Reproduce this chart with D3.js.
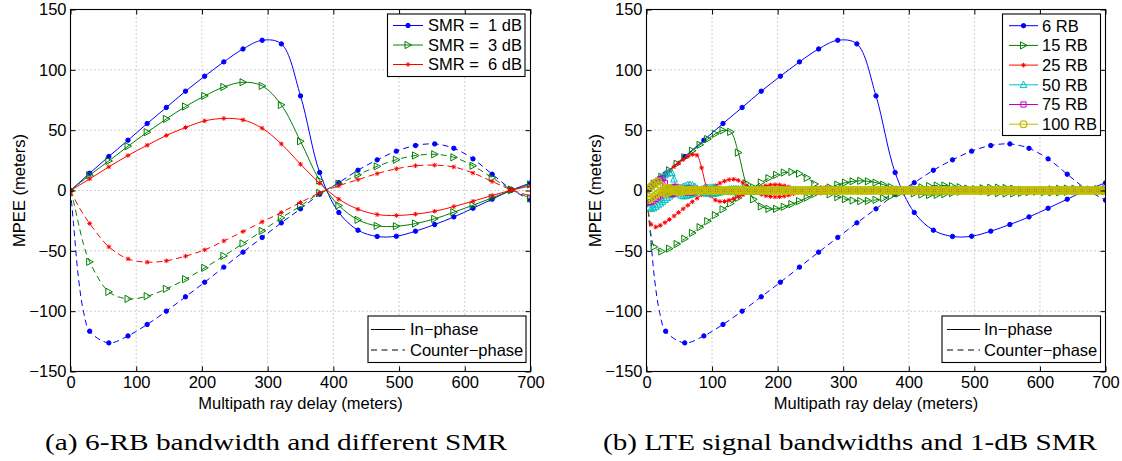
<!DOCTYPE html>
<html>
<head>
<meta charset="utf-8">
<script src="https://cdn.jsdelivr.net/npm/d3@7"></script>
<style>
  body { margin: 0; background: #fff; }
</style>
</head>
<body>
<svg id="fig" width="1122" height="461"></svg>
<script>
// ---- data ----
const delayTicks = [0, 100, 200, 300, 400, 500, 600, 700];
const mpeeTicks = [-150, -100, -50, 0, 50, 100, 150];

// (a) 6 RB, markers every 700/24 m
const smr1In = [0,14.3,28.2,41.7,55.5,68.8,82.3,94.7,106.6,117.3,124.5,121.5,78.4,14.9,-18.2,-32.9,-38.1,-37.9,-33.7,-28.2,-21.9,-14.7,-7.2,0.2,6.3];
const smr3In = [0,12.7,24.5,36.7,48.3,59.3,69.6,78.4,85.8,89.7,86.7,70.9,40.8,8.3,-12.4,-24.3,-29.3,-29.6,-27.4,-23.5,-18.0,-12.2,-6.1,0.2,5.0];
const smr6In = [0,9.6,19.6,29.0,37.5,45.6,52.2,57.7,59.7,58.5,51.6,38.6,21.8,6.0,-7.2,-15.5,-19.9,-20.7,-19.6,-17.2,-13.3,-8.9,-4.1,0.2,3.8];
const smr1Cp = [0,-116.6,-126.3,-120.5,-111.0,-100.0,-88.1,-76.0,-63.5,-51.1,-38.9,-26.8,-15.2,-3.1,6.5,16.8,25.4,32.6,37.3,38.6,35.0,26.2,13.5,1.0,-8.0];
const smr3Cp = [0,-59.1,-84.0,-89.8,-87.6,-81.5,-73.5,-64.1,-54.2,-43.9,-33.5,-22.7,-12.8,-2.0,5.5,13.0,20.0,25.5,29.0,30.0,27.5,20.5,10.5,0.8,-6.5];
const smr6Cp = [0,-27.3,-46.7,-56.7,-59.4,-58.3,-54.4,-49.2,-41.8,-34.0,-26.0,-18.2,-9.9,-2.0,4.0,9.0,14.0,18.0,20.5,21.0,19.5,14.5,7.5,0.5,-4.5];
// steep start of the counter-phase curves (no markers there)
const headDelay = [5, 12, 20];
const smr1CpHead = [-30, -72, -101];
const smr3CpHead = [-10, -27, -45];
const smr6CpHead = [-5.5, -13, -20];

// (b) 1 dB SMR, bandwidths
const rb15In = [0,5.7,11.3,16.7,22.2,27.5,32.9,37.9,42.6,46.9,49.8,48.6,31.4,6.0,-7.3,-13.2,-15.2,-15.2,-13.5,-11.3,-8.8,-5.9,-2.9,0.1,2.5,
  4.8,6.5,7.6,8.0,7.6,6.5,4.8,2.8,0.8,-1.0,-2.4,-3.3,-3.7,-3.6,-3.0,-2.1,-1.0,0.1,1.1,1.9,
  2.3,2.4,2.1,1.5,0.7,-0.1,-0.9,-1.4,-1.6,-1.5,-1.1,-0.5,0.1,0.7,1.1,1.2];
const rb15Cp = [0,-46.6,-50.5,-48.2,-44.4,-40.0,-35.2,-30.4,-25.4,-20.4,-15.6,-10.7,-6.1,-1.2,2.6,6.7,10.2,13.0,14.9,15.4,14.0,10.5,5.4,-0.4,-3.2,
  -5.5,-7.2,-8.3,-8.8,-8.6,-7.8,-6.3,-4.5,-2.5,-0.6,1.2,2.6,3.6,4.1,4.1,3.6,2.7,1.6,0.4,-0.7,
  -1.6,-2.2,-2.5,-2.4,-2.0,-1.3,-0.5,0.3,1.0,1.4,1.6,1.5,1.1,0.6,0.0,-0.5];
const rb15HeadDelay = [2, 4.8, 8];
const rb15CpHead = [-12, -29, -40];

const rb25In = [0,3.4,6.8,10.0,13.3,16.5,19.8,22.7,25.6,28.2,29.9,29.2,18.8,3.6,-4.4,-7.9,-9.1,-9.1,-8.1,-6.8,-5.3,-3.5,-1.7,0,1.5,
  2.9,3.9,4.6,4.8,4.6,3.9,2.9,1.7,0.5,-0.6,-1.4,-2.0,-2.2,-2.2,-1.8,-1.3,-0.6,0.1,0.7,1.1,
  1.4,1.4,1.3,0.9,0.4,-0.1,-0.5,-0.8,-1.0,-0.9,-0.7,-0.3,0.1,0.4,0.7,0.7,
  0.6,0.4,0.1,-0.2,-0.4,-0.6,-0.6,-0.5,-0.3,0,0.3,0.5,0.5,0.5,0.3,0.1,-0.1,-0.3,-0.4,-0.4,
  -0.3,-0.1,0.1,0.3,0.4,0.4,0.3,0.1,-0.1,-0.2,-0.3,-0.3,-0.2,0,0.1,0.2,0.3,0.2,0.1,0];
const rb25Cp = [0,-28.0,-30.3,-28.9,-26.6,-24.0,-21.1,-18.2,-15.2,-12.3,-9.3,-6.4,-3.6,-0.7,1.6,4.0,6.1,7.8,9.0,9.3,8.4,6.3,3.2,-0.2,-1.9,
  -3.3,-4.3,-5.0,-5.3,-5.2,-4.7,-3.8,-2.7,-1.5,-0.4,0.7,1.6,2.2,2.5,2.5,2.2,1.6,1.0,0.2,-0.4,
  -1.0,-1.3,-1.5,-1.4,-1.2,-0.8,-0.3,0.2,0.6,0.8,1.0,0.9,0.7,0.4,0,-0.3,
  -0.6,-0.8,-0.9,-0.9,-0.7,-0.4,-0.1,0.2,0.5,0.6,0.6,0.5,0.3,0,-0.2,-0.4,-0.5,-0.5,-0.4,-0.2,
  0,0.2,0.3,0.4,0.4,0.3,0.1,-0.1,-0.2,-0.3,-0.3,-0.2,-0.1,0.1,0.2,0.2,0.2,0.1,0,-0.1];

// 50, 75, 100 RB on a 3.5 m grid
const rb50In = [0,1.7,3.4,5.0,6.7,8.3,9.9,11.4,12.8,14.1,14.9,14.6,9.4,1.8,-2.2,-3.9,-4.6,-4.5,-4.0,-3.4,-2.6,-1.8,-0.9,0,0.8,
  1.4,2.0,2.3,2.4,2.3,2.0,1.4,0.8,0.2,-0.3,-0.7,-1.0,-1.1,-1.1,-0.9,-0.6,-0.3,0,0.3,0.6,
  0.7,0.7,0.6,0.5,0.2,0,-0.3,-0.4,-0.5,-0.5,-0.3,-0.2,0,0.2,0.3,0.4,
  0,0,0,0,0,0,0,0,0,0, 0,0,0,0,0,0,0,0,0,0, 0,0,0,0,0,0,0,0,0,0, 0,0,0,0,0,0,0,0,0,0,
  0,0,0,0,0,0,0,0,0,0, 0,0,0,0,0,0,0,0,0,0, 0,0,0,0,0,0,0,0,0,0, 0,0,0,0,0,0,0,0,0,0,
  0,0,0,0,0,0,0,0,0,0, 0,0,0,0,0,0,0,0,0,0, 0,0,0,0,0,0,0,0,0,0, 0,0,0,0,0,0,0,0,0,0,
  0,0,0,0,0,0,0,0,0,0, 0,0,0,0,0,0,0,0,0,0];
const rb50Cp = [0,-14.0,-15.2,-14.5,-13.3,-12.0,-10.6,-9.1,-7.6,-6.1,-4.7,-3.2,-1.8,-0.4,0.8,2.0,3.0,3.9,4.5,4.6,4.2,3.1,1.6,-0.1,-1.0,
  -1.7,-2.2,-2.5,-2.6,-2.6,-2.3,-1.9,-1.4,-0.8,-0.2,0.4,0.8,1.1,1.2,1.2,1.1,0.8,0.5,0.1,-0.2,
  -0.5,-0.7,-0.8,-0.7,-0.6,-0.4,-0.2,0.1,0.3,0.4,0.5,0.5,0.3,0.2,0,-0.2,
  0,0,0,0,0,0,0,0,0,0, 0,0,0,0,0,0,0,0,0,0, 0,0,0,0,0,0,0,0,0,0, 0,0,0,0,0,0,0,0,0,0,
  0,0,0,0,0,0,0,0,0,0, 0,0,0,0,0,0,0,0,0,0, 0,0,0,0,0,0,0,0,0,0, 0,0,0,0,0,0,0,0,0,0,
  0,0,0,0,0,0,0,0,0,0, 0,0,0,0,0,0,0,0,0,0, 0,0,0,0,0,0,0,0,0,0, 0,0,0,0,0,0,0,0,0,0,
  0,0,0,0,0,0,0,0,0,0, 0,0,0,0,0,0,0,0,0,0];
const rb75In = [0,1.7,3.3,5.0,6.6,8.1,9.4,10.0,6.3,-0.2,-2.6,-3.1,-2.7,-2.0,-1.2,-0.3,0.5,1.1,1.5,1.6,
  1.3,0.8,0.2,-0.3,-0.7,-0.7,-0.6,-0.3,0,0.3,0.5,0.4,0.3,0.1,-0.1,-0.2,-0.2,-0.1,0,0,0,
  0,0,0,0,0,0,0,0,0,0, 0,0,0,0,0,0,0,0,0,0, 0,0,0,0,0,0,0,0,0,0, 0,0,0,0,0,0,0,0,0,0,
  0,0,0,0,0,0,0,0,0,0, 0,0,0,0,0,0,0,0,0,0, 0,0,0,0,0,0,0,0,0,0, 0,0,0,0,0,0,0,0,0,0,
  0,0,0,0,0,0,0,0,0,0, 0,0,0,0,0,0,0,0,0,0, 0,0,0,0,0,0,0,0,0,0, 0,0,0,0,0,0,0,0,0,0,
  0,0,0,0,0,0,0,0,0,0, 0,0,0,0,0,0,0,0,0,0, 0,0,0,0,0,0,0,0,0,0, 0,0,0,0,0,0,0,0,0,0];
const rb75Cp = [0,-9.8,-9.6,-8.4,-7.0,-5.6,-4.1,-2.6,-1.2,0.1,1.3,2.3,3.0,3.0,2.1,0.5,-0.6,-1.3,-1.7,-1.7,
  -1.6,-1.1,-0.5,0.1,0.5,0.8,0.8,0.6,0.3,0,-0.3,-0.5,-0.5,-0.3,-0.1,0.1,0.1,0,0,0,0,
  0,0,0,0,0,0,0,0,0,0, 0,0,0,0,0,0,0,0,0,0, 0,0,0,0,0,0,0,0,0,0, 0,0,0,0,0,0,0,0,0,0,
  0,0,0,0,0,0,0,0,0,0, 0,0,0,0,0,0,0,0,0,0, 0,0,0,0,0,0,0,0,0,0, 0,0,0,0,0,0,0,0,0,0,
  0,0,0,0,0,0,0,0,0,0, 0,0,0,0,0,0,0,0,0,0, 0,0,0,0,0,0,0,0,0,0, 0,0,0,0,0,0,0,0,0,0,
  0,0,0,0,0,0,0,0,0,0, 0,0,0,0,0,0,0,0,0,0, 0,0,0,0,0,0,0,0,0,0, 0,0,0,0,0,0,0,0,0,0];
const rb100In = [0,1.7,3.3,4.9,6.4,7.5,4.7,-1.1,-2.3,-2.0,-1.3,-0.4,0.4,1.0,1.2,1.0,0.4,-0.2,-0.5,-0.5,
  -0.3,0,0.3,0.4,0.2,0,0,0,0,0,0,
  0,0,0,0,0,0,0,0,0,0, 0,0,0,0,0,0,0,0,0,0, 0,0,0,0,0,0,0,0,0,0, 0,0,0,0,0,0,0,0,0,0,
  0,0,0,0,0,0,0,0,0,0, 0,0,0,0,0,0,0,0,0,0, 0,0,0,0,0,0,0,0,0,0, 0,0,0,0,0,0,0,0,0,0,
  0,0,0,0,0,0,0,0,0,0, 0,0,0,0,0,0,0,0,0,0, 0,0,0,0,0,0,0,0,0,0, 0,0,0,0,0,0,0,0,0,0,
  0,0,0,0,0,0,0,0,0,0, 0,0,0,0,0,0,0,0,0,0, 0,0,0,0,0,0,0,0,0,0, 0,0,0,0,0,0,0,0,0,0,
  0,0,0,0,0,0,0,0,0,0];
const rb100Cp = [0,-7.6,-6.7,-5.3,-3.8,-2.3,-0.9,0.4,1.5,2.2,2.1,0.8,-0.5,-1.1,-1.3,-1.2,-0.7,-0.1,0.4,0.6,
  0.5,0.2,-0.1,-0.4,-0.3,0,0,0,0,0,0,
  0,0,0,0,0,0,0,0,0,0, 0,0,0,0,0,0,0,0,0,0, 0,0,0,0,0,0,0,0,0,0, 0,0,0,0,0,0,0,0,0,0,
  0,0,0,0,0,0,0,0,0,0, 0,0,0,0,0,0,0,0,0,0, 0,0,0,0,0,0,0,0,0,0, 0,0,0,0,0,0,0,0,0,0,
  0,0,0,0,0,0,0,0,0,0, 0,0,0,0,0,0,0,0,0,0, 0,0,0,0,0,0,0,0,0,0, 0,0,0,0,0,0,0,0,0,0,
  0,0,0,0,0,0,0,0,0,0, 0,0,0,0,0,0,0,0,0,0, 0,0,0,0,0,0,0,0,0,0, 0,0,0,0,0,0,0,0,0,0,
  0,0,0,0,0,0,0,0,0,0];

const smrLabels = ["SMR =  1 dB", "SMR =  3 dB", "SMR =  6 dB"];
const rbLabels = ["6 RB", "15 RB", "25 RB", "50 RB", "75 RB", "100 RB"];
const phaseLabels = ["In\u2212phase", "Counter\u2212phase"];
const captions = ["(a) 6-RB bandwidth and different SMR", "(b) LTE signal bandwidths and 1-dB SMR"];

// delay grid: sample index * step (metres)
const grid = (values, step) => values.map((v, i) => i * step);

const BLUE = "#0000ff", GREEN = "#008000", RED = "#ff0000",
      CYAN = "#00bfbf", MAGENTA = "#bf00bf", YELLOW = "#bfbf00";
const SANS = '"Liberation Sans", Arial, Helvetica, sans-serif';
const SERIF = '"Liberation Serif", "Times New Roman", serif';
const FS = "16.5px";

const svg = d3.select("#fig");

function markerPath(type) {
  switch (type) {
    case "dot": return d3.symbol(d3.symbolCircle, 15)();
    case "triRight": return "M-3,-3.6L3.6,0L-3,3.6Z";
    case "triUp": return "M0,-3.8L3.4,2.8L-3.4,2.8Z";
    case "square": return "M-2.6,-2.6H2.6V2.6H-2.6Z";
    case "circle": return d3.symbol(d3.symbolCircle, 36)();
    case "star": return "M-2.3,0H2.3M0,-2.3V2.3M-1.7,-1.7L1.7,1.7M-1.7,1.7L1.7,-1.7";
  }
  return null;
}

function styleMarker(sel, s) {
  sel.attr("d", markerPath(s.marker))
    .attr("fill", s.marker === "dot" ? s.color : "none")
    .attr("stroke", s.color)
    .attr("stroke-width", s.marker === "circle" ? 1.3 : 1);
}

function drawPanel(p) {
  const x = d3.scaleLinear().domain([0, 700]).range([p.left, p.right]);
  const y = d3.scaleLinear().domain([-150, 150]).range([p.bottom, p.top]);
  const g = svg.append("g");

  // dotted grid
  g.append("g").selectAll("line").data(delayTicks.slice(1, -1)).join("line")
    .attr("x1", d => x(d)).attr("x2", d => x(d)).attr("y1", p.top).attr("y2", p.bottom)
    .attr("stroke", "#888").attr("stroke-width", 0.8).attr("stroke-dasharray", "1,3");
  g.append("g").selectAll("line").data(mpeeTicks.slice(1, -1)).join("line")
    .attr("x1", p.left).attr("x2", p.right).attr("y1", d => y(d)).attr("y2", d => y(d))
    .attr("stroke", "#888").attr("stroke-width", 0.8).attr("stroke-dasharray", "1,3");

  svg.append("clipPath").attr("id", p.id).append("rect")
    .attr("x", p.left).attr("y", p.top)
    .attr("width", p.right - p.left).attr("height", p.bottom - p.top);

  const plot = g.append("g").attr("clip-path", `url(#${p.id})`);
  const line = d3.line().x(d => x(d[0])).y(d => y(d[1])).curve(d3.curveCatmullRom.alpha(0.5));

  p.series.forEach(s => {
    const pts = s.x.map((v, i) => [v, s.y[i]]);
    let linePts = pts;
    if (s.headX) {
      linePts = [pts[0], ...s.headX.map((v, i) => [v, s.headY[i]]), ...pts.slice(1)];
    }
    plot.append("path").datum(linePts)
      .attr("d", line)
      .attr("fill", "none")
      .attr("stroke", s.color)
      .attr("stroke-width", 1)
      .attr("stroke-dasharray", s.dashed ? "6,4" : null);
    plot.append("g").selectAll("path").data(pts).join("path")
      .attr("transform", d => `translate(${x(d[0])},${y(d[1])})`)
      .call(styleMarker, s);
  });

  // box
  g.append("rect")
    .attr("x", p.left).attr("y", p.top)
    .attr("width", p.right - p.left).attr("height", p.bottom - p.top)
    .attr("fill", "none").attr("stroke", "#000").attr("stroke-width", 1.1);

  const fontIt = sel => sel.selectAll("text")
    .attr("font-family", SANS).attr("font-size", FS).attr("fill", "#000");

  g.append("g").attr("transform", `translate(0,${p.bottom})`)
    .call(d3.axisBottom(x).tickValues(delayTicks).tickSizeInner(-5).tickSizeOuter(0).tickPadding(5))
    .call(a => a.select(".domain").remove())
    .call(fontIt);
  g.append("g").attr("transform", `translate(0,${p.top})`)
    .call(d3.axisTop(x).tickValues(delayTicks).tickSizeInner(-5).tickSizeOuter(0).tickFormat(""))
    .call(a => a.select(".domain").remove());
  g.append("g").attr("transform", `translate(${p.left},0)`)
    .call(d3.axisLeft(y).tickValues(mpeeTicks).tickSizeInner(-5).tickSizeOuter(0).tickPadding(4))
    .call(a => a.select(".domain").remove())
    .call(fontIt);
  g.append("g").attr("transform", `translate(${p.right},0)`)
    .call(d3.axisRight(y).tickValues(mpeeTicks).tickSizeInner(-5).tickSizeOuter(0).tickFormat(""))
    .call(a => a.select(".domain").remove());

  // axis titles
  g.append("text")
    .attr("x", (p.left + p.right) / 2).attr("y", 409)
    .attr("text-anchor", "middle")
    .attr("font-family", SANS).attr("font-size", FS)
    .text("Multipath ray delay (meters)");
  g.append("text")
    .attr("transform", `translate(${p.left - 46},${(p.top + p.bottom) / 2}) rotate(-90)`)
    .attr("text-anchor", "middle")
    .attr("font-family", SANS).attr("font-size", FS)
    .text("MPEE (meters)");

  // caption
  g.append("text")
    .attr("x", p.capX).attr("y", 450)
    .attr("textLength", p.capW).attr("lengthAdjust", "spacingAndGlyphs")
    .attr("font-family", SERIF)
    .attr("font-size", "23px")
    .text(p.caption);

  p.legends.forEach(drawLegend);
}

function drawLegend(b) {
  const lg = svg.append("g");
  lg.append("rect")
    .attr("x", b.x).attr("y", b.y).attr("width", b.w).attr("height", b.h)
    .attr("fill", "#fff").attr("stroke", "#000").attr("stroke-width", 1.1);
  b.items.forEach((it, i) => {
    const cy = b.y + b.first + i * b.step;
    lg.append("line")
      .attr("x1", b.lx1).attr("x2", b.lx2).attr("y1", cy).attr("y2", cy)
      .attr("stroke", it.color).attr("stroke-width", 1)
      .attr("stroke-dasharray", it.dashed ? "6,4.5" : null);
    if (it.marker) {
      lg.append("path")
        .attr("transform", `translate(${(b.lx1 + b.lx2) / 2},${cy})`)
        .call(styleMarker, it);
    }
    lg.append("text")
      .attr("x", b.tx).attr("y", cy).attr("dy", "0.36em")
      .attr("font-family", SANS).attr("font-size", FS)
      .style("white-space", "pre")
      .text(it.label);
  });
}

const grid6 = grid(smr1In, 700 / 24);

const leftSeries = [
  { x: grid6, y: smr1In, color: BLUE, marker: "dot" },
  { x: grid6, y: smr1Cp, color: BLUE, marker: "dot", dashed: true, headX: headDelay, headY: smr1CpHead },
  { x: grid6, y: smr3In, color: GREEN, marker: "triRight" },
  { x: grid6, y: smr3Cp, color: GREEN, marker: "triRight", dashed: true, headX: headDelay, headY: smr3CpHead },
  { x: grid6, y: smr6In, color: RED, marker: "star" },
  { x: grid6, y: smr6Cp, color: RED, marker: "star", dashed: true, headX: headDelay, headY: smr6CpHead }
];

const rightSeries = [
  { x: grid6, y: smr1In, color: BLUE, marker: "dot" },
  { x: grid6, y: smr1Cp, color: BLUE, marker: "dot", dashed: true, headX: headDelay, headY: smr1CpHead },
  { x: grid(rb15In, 700 / 60), y: rb15In, color: GREEN, marker: "triRight" },
  { x: grid(rb15Cp, 700 / 60), y: rb15Cp, color: GREEN, marker: "triRight", dashed: true, headX: rb15HeadDelay, headY: rb15CpHead },
  { x: grid(rb25In, 7), y: rb25In, color: RED, marker: "star" },
  { x: grid(rb25Cp, 7), y: rb25Cp, color: RED, marker: "star", dashed: true },
  { x: grid(rb50In, 3.5), y: rb50In, color: CYAN, marker: "triUp" },
  { x: grid(rb50Cp, 3.5), y: rb50Cp, color: CYAN, marker: "triUp", dashed: true },
  { x: grid(rb75In, 3.5), y: rb75In, color: MAGENTA, marker: "square" },
  { x: grid(rb75Cp, 3.5), y: rb75Cp, color: MAGENTA, marker: "square", dashed: true },
  { x: grid(rb100In, 3.5), y: rb100In, color: YELLOW, marker: "circle" },
  { x: grid(rb100Cp, 3.5), y: rb100Cp, color: YELLOW, marker: "circle", dashed: true }
];

const phaseItems = phaseLabels.map((l, i) => ({ label: l, color: "#000", dashed: i === 1 }));

drawPanel({
  id: "clipA", left: 70.5, right: 530.5, top: 9.5, bottom: 371.5,
  series: leftSeries, caption: captions[0], capX: 45, capW: 462,
  legends: [
    { x: 387.5, y: 14, w: 137.5, h: 62.5, first: 11.5, step: 19.5, lx1: 393, lx2: 423, tx: 428,
      items: smrLabels.map((l, i) => ({ label: l, color: [BLUE, GREEN, RED][i], marker: ["dot", "triRight", "star"][i] })) },
    { x: 368, y: 316, w: 158, h: 46.5, first: 13.5, step: 20.5, lx1: 371, lx2: 405, tx: 410, items: phaseItems }
  ]
});

drawPanel({
  id: "clipB", left: 646.5, right: 1105.5, top: 9.5, bottom: 371.5,
  series: rightSeries, caption: captions[1], capX: 603, capW: 494,
  legends: [
    { x: 1002.5, y: 14, w: 98, h: 121.5, first: 11.7, step: 19.7, lx1: 1009, lx2: 1038, tx: 1042,
      items: rbLabels.map((l, i) => ({ label: l, color: [BLUE, GREEN, RED, CYAN, MAGENTA, YELLOW][i],
        marker: ["dot", "triRight", "star", "triUp", "square", "circle"][i] })) },
    { x: 942, y: 316, w: 158.5, h: 46.5, first: 13.5, step: 20.5, lx1: 947, lx2: 980, tx: 984, items: phaseItems }
  ]
});
</script>
</body>
</html>
